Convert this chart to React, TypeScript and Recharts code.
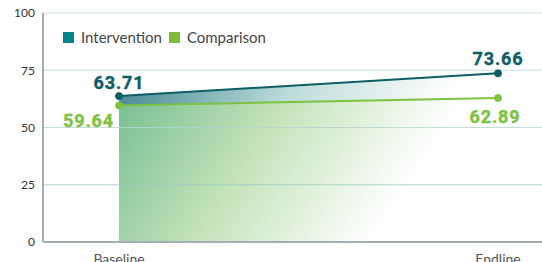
import React from "react";
import { ComposedChart, Area, XAxis, YAxis, ReferenceLine } from "recharts";

const phases = ["Baseline", "Endline"];
const intervention = [63.71, 73.66];
const comparison = [59.64, 62.89];
const yTicks = [0, 25, 50, 75, 100];

const data = phases.map((p, i) => ({ phase: p, intervention: intervention[i], comparison: comparison[i] }));

const TEAL = "#0f5e66";
const GREEN = "#7dc242";
const FONT = "Lato, 'Open Sans', sans-serif";
const NUMFONT = "Roboto, 'Open Sans', sans-serif";

const gridColors: Record<number, string> = { 25: "#9dcbc0", 50: "#b2d4cf", 75: "#b0d8d9", 100: "#c6dbe2" };

function interventionLabel(props: any) {
  const { x, y, index } = props;
  return (
    <text
      key={"il" + index}
      x={x}
      y={index === 0 ? y - 7 : y - 8}
      textAnchor="middle"
      fill={TEAL}
      stroke={TEAL}
      strokeWidth={0.4}
      fontSize={18}
      fontWeight={700}
      fontFamily={NUMFONT}
      letterSpacing={0.9}
    >
      {intervention[index].toFixed(2)}
    </text>
  );
}

function comparisonLabel(props: any) {
  const { x, y, index } = props;
  const first = index === 0;
  return (
    <text
      key={"cl" + index}
      x={first ? x - 5 : x - 3}
      y={first ? y + 22 : y + 25}
      textAnchor={first ? "end" : "middle"}
      fill={GREEN}
      stroke={GREEN}
      strokeWidth={0.4}
      fontSize={18}
      fontWeight={700}
      fontFamily={NUMFONT}
      letterSpacing={0.9}
    >
      {comparison[index].toFixed(2)}
    </text>
  );
}

export default function App() {
  return (
    <div style={{ position: "absolute", left: 0, top: 0, width: 542, height: 262, background: "#fff" }}>
      <ComposedChart width={542} height={262} data={data} margin={{ top: 13, right: 0, bottom: 0, left: 0 }}>
        <defs>
          <linearGradient id="tealGrad" x1="0" y1="0" x2="1" y2="0.25">
            <stop offset="0" stopColor="#3f8590" />
            <stop offset="0.45" stopColor="#bddcd9" />
            <stop offset="0.85" stopColor="#ffffff" />
            <stop offset="1" stopColor="#ffffff" />
          </linearGradient>
          <linearGradient id="greenGrad" x1="0" y1="0" x2="1" y2="0.25">
            <stop offset="0" stopColor="#78bf92" />
            <stop offset="0.42" stopColor="#c4e3b9" />
            <stop offset="0.86" stopColor="#ffffff" />
            <stop offset="1" stopColor="#ffffff" />
          </linearGradient>
        </defs>
        <XAxis
          dataKey="phase"
          scale="point"
          padding={{ left: 76, right: 44 }}
          height={20}
          tickLine={false}
          tickMargin={6}
          axisLine={{ stroke: "#a3afb5", strokeWidth: 2 }}
          tick={{ fill: "#555", fontSize: 14, fontFamily: FONT }}
        />
        <YAxis
          domain={[0, 100]}
          ticks={yTicks}
          width={43}
          tickLine={false}
          axisLine={{ stroke: "#a3afb5", strokeWidth: 2 }}
          tick={{ fill: "#333", fontSize: 12, fontFamily: FONT }}
        />
        <Area
          type="linear"
          dataKey="intervention"
          stroke={TEAL}
          strokeWidth={2}
          fill="url(#tealGrad)"
          fillOpacity={1}
          dot={{ r: 3.5, fill: TEAL, stroke: TEAL, strokeWidth: 1 }}
          activeDot={false}
          label={interventionLabel}
          isAnimationActive={false}
        />
        <Area
          type="linear"
          dataKey="comparison"
          stroke={GREEN}
          strokeWidth={2}
          fill="url(#greenGrad)"
          fillOpacity={1}
          dot={{ r: 3.5, fill: GREEN, stroke: GREEN, strokeWidth: 1 }}
          activeDot={false}
          label={comparisonLabel}
          isAnimationActive={false}
        />
        {yTicks.filter((t) => t > 0).map((t) => (
          <ReferenceLine key={t} y={t} stroke={gridColors[t]} strokeWidth={1} strokeOpacity={0.8} ifOverflow="visible" />
        ))}
      </ComposedChart>
      <div
        style={{
          position: "absolute",
          left: 63,
          top: 28,
          display: "flex",
          alignItems: "center",
          fontFamily: FONT,
          fontSize: 15,
          color: "#444",
          whiteSpace: "nowrap",
        }}
      >
        <span style={{ display: "inline-block", width: 11, height: 11, background: "#00868a", marginRight: 7 }} />
        <span style={{ marginRight: 7 }}>Intervention</span>
        <span style={{ display: "inline-block", width: 11, height: 11, background: "#7dbd3b", marginRight: 7 }} />
        <span>Comparison</span>
      </div>
    </div>
  );
}
